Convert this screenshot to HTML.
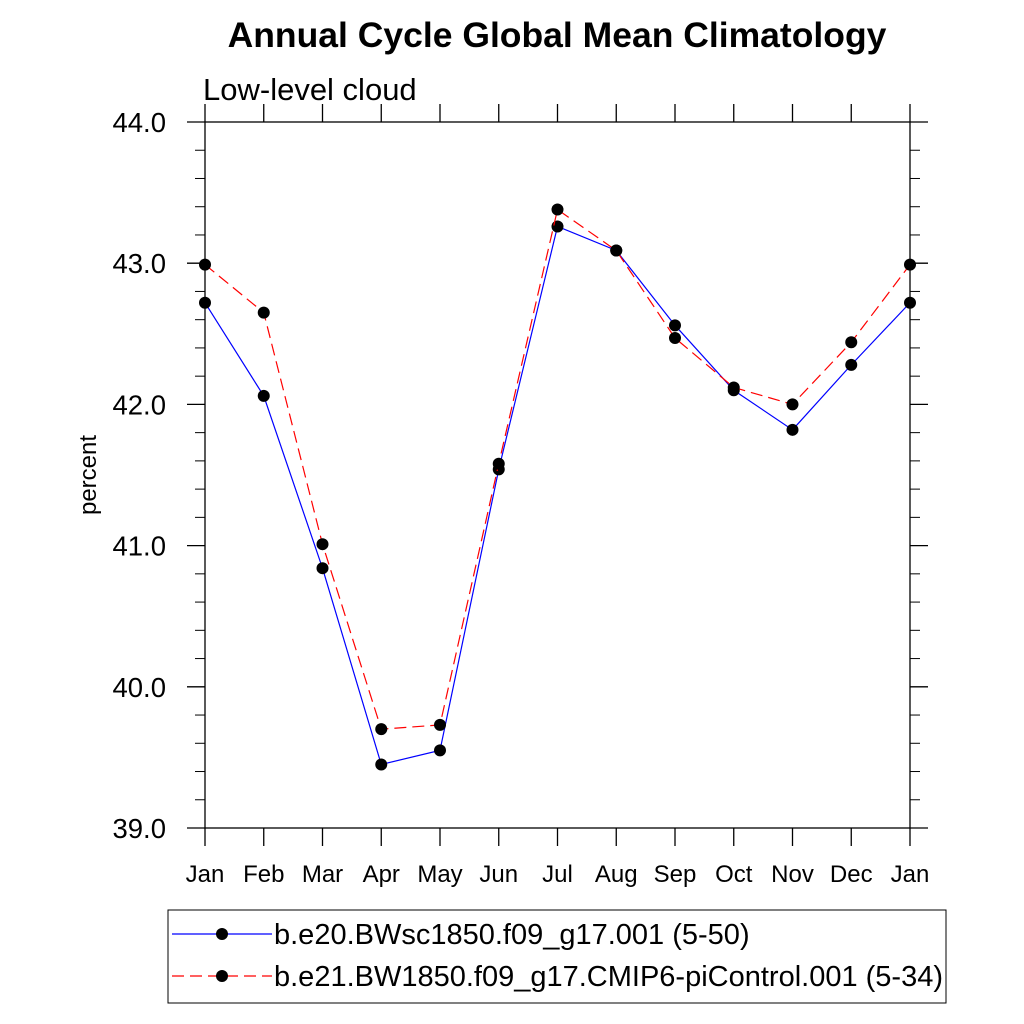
<!DOCTYPE html>
<html><head><meta charset="utf-8"><style>body{margin:0;background:#fff}svg{display:block;font-family:"Liberation Sans",sans-serif}</style></head>
<body>
<svg id="chart" width="1024" height="1024" viewBox="0 0 1024 1024">
<rect width="1024" height="1024" fill="#fff"/>
<text x="557" y="47" font-size="35.5" font-weight="bold" text-anchor="middle">Annual Cycle Global Mean Climatology</text>
<text x="203" y="100" font-size="31">Low-level cloud</text>
<text transform="translate(96,475) rotate(-90)" font-size="24" text-anchor="middle">percent</text>
<g id="axes"></g>
<g id="series"></g>
<g>
<rect x="168" y="910" width="778" height="93" fill="none" stroke="#000" stroke-width="1"/>
<g>
<line x1="172" y1="934" x2="272" y2="934" stroke="#00f" stroke-width="1.2"/>
<circle cx="222" cy="934" r="6" fill="#000"/>
<text x="274" y="944" font-size="29">b.e20.BWsc1850.f09_g17.001 (5-50)</text></g>
<g>
<line x1="172" y1="976" x2="272" y2="976" stroke="#f00" stroke-width="1.2" stroke-dasharray="12,6"/>
<circle cx="222" cy="976" r="6" fill="#000"/>
<text x="274" y="986" font-size="29">b.e21.BW1850.f09_g17.CMIP6-piControl.001 (5-34)</text></g>
</g>
</svg>
<script>
const months=["Jan","Feb","Mar","Apr","May","Jun","Jul","Aug","Sep","Oct","Nov","Dec","Jan"];
const seriesA=[42.72,42.06,40.84,39.45,39.55,41.54,43.26,43.09,42.56,42.10,41.82,42.28,42.72];
const seriesB=[42.99,42.65,41.01,39.70,39.73,41.58,43.38,43.09,42.47,42.12,42.00,42.44,42.99];
const yTicks=[39,40,41,42,43,44];
const yTickLabels=["39.0","40.0","41.0","42.0","43.0","44.0"];
const NS="http://www.w3.org/2000/svg";
const L=205,R=910,T=122,B=828,yMin=39,yMax=44;
const xs=i=>L+(R-L)*i/(months.length-1);
const ys=v=>B-(v-yMin)/(yMax-yMin)*(B-T);
function mk(tag,at,parent){const e=document.createElementNS(NS,tag);for(const k in at)e.setAttribute(k,at[k]);parent.appendChild(e);return e;}
const ax=document.getElementById('axes');
const frame=mk('rect',{x:L,y:T,width:R-L,height:B-T,fill:'none',stroke:'#000','stroke-width':1.3},ax);


for(let i=0;i<yTicks.length;i++){
  const y=ys(yTicks[i]);
  mk('line',{x1:L-18,y1:y,x2:L,y2:y,stroke:'#000','stroke-width':1.3},ax);
  mk('line',{x1:R,y1:y,x2:R+18,y2:y,stroke:'#000','stroke-width':1.3},ax);
  const t=mk('text',{x:L-39,y:y+10,'font-size':27.5,'text-anchor':'end'},ax);
  t.textContent=yTickLabels[i];
  
  
  if(i<yTicks.length-1){for(let k=1;k<5;k++){const yy=ys(yTicks[i]+k*0.2);
    mk('line',{x1:L-10,y1:yy,x2:L,y2:yy,stroke:'#000','stroke-width':1},ax);
    mk('line',{x1:R,y1:yy,x2:R+10,y2:yy,stroke:'#000','stroke-width':1},ax);}}
}
for(let i=0;i<months.length;i++){
  const x=xs(i);
  mk('line',{x1:x,y1:B,x2:x,y2:B+18,stroke:'#000','stroke-width':1.3},ax);
  mk('line',{x1:x,y1:T-18,x2:x,y2:T,stroke:'#000','stroke-width':1.3},ax);
  const t=mk('text',{x:x,y:B+54,'font-size':24,'text-anchor':'middle'},ax);
  t.textContent=months[i];
  
  
}
const sg=document.getElementById('series');
function draw(data,color,dash,name){
  const g=mk('g',{},sg);
  
  
  const p=mk('polyline',{points:data.map((v,i)=>xs(i)+','+ys(v)).join(' '),fill:'none',stroke:color,'stroke-width':1.2},g);
  if(dash)p.setAttribute('stroke-dasharray',dash);
  data.forEach((v,i)=>{const c=mk('circle',{cx:xs(i),cy:ys(v),r:6,fill:'#000'},g);
    
    });
}
draw(seriesA,'#00f',null,'series-bwsc1850');
draw(seriesB,'#f00','12,6','series-bw1850-picontrol');
</script>
</body></html>
